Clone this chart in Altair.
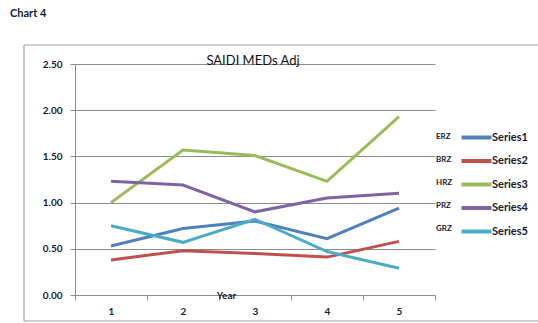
import altair as alt
import pandas as pd

years = [1, 2, 3, 4, 5]
series_names = ["Series1", "Series2", "Series3", "Series4", "Series5"]
prefixes = ["ERZ", "BRZ", "HRZ", "PRZ", "GRZ"]
s1 = [0.53, 0.72, 0.80, 0.61, 0.94]
s2 = [0.38, 0.48, 0.45, 0.41, 0.58]
s3 = [1.00, 1.57, 1.51, 1.23, 1.93]
s4 = [1.23, 1.19, 0.90, 1.05, 1.10]
s5 = [0.75, 0.57, 0.82, 0.47, 0.29]
colors = ["#4F81BD", "#C0504D", "#9BBB59", "#8064A2", "#4BACC6"]
y_ticks = [0.0, 0.5, 1.0, 1.5, 2.0, 2.5]
x_ticks = [0.5, 1, 1.5, 2, 2.5, 3, 3.5, 4, 4.5, 5, 5.5]

rows = []
for name, vals in zip(series_names, [s1, s2, s3, s4, s5]):
    for yr, v in zip(years, vals):
        rows.append({"series": name, "year": yr, "value": v})
df = pd.DataFrame(rows)

FONT = "Lato"
TXT = "#1a1a2e"
GRID = "#8c8c8c"
BOX = "#a0a0a0"

one = pd.DataFrame({"a": [0]})
box_top = alt.Chart(one).mark_rule(stroke=BOX, strokeWidth=1.2).encode(
    x=alt.value(-51), x2=alt.value(490), y=alt.value(-19))
box_bottom = alt.Chart(one).mark_rule(stroke=BOX, strokeWidth=1.2).encode(
    x=alt.value(-51), x2=alt.value(490), y=alt.value(257))
box_left = alt.Chart(one).mark_rule(stroke=BOX, strokeWidth=1.2).encode(
    x=alt.value(-51), y=alt.value(-19), y2=alt.value(257))

chart_label = alt.Chart(one).mark_text(
    text="Chart 4", font=FONT, fontSize=11, fontWeight="bold", align="left",
    baseline="middle", color=TXT
).encode(x=alt.value(-65), y=alt.value(-50))

title_text = alt.Chart(one).mark_text(
    text="SAIDI MEDs Adj", font=FONT, fontSize=13, align="center",
    baseline="middle", color="#111111"
).encode(x=alt.value(178), y=alt.value(-3))

lines = alt.Chart(df).mark_line(strokeWidth=3).encode(
    x=alt.X(
        "year:Q",
        scale=alt.Scale(domain=[0.5, 5.5], nice=False, zero=False),
        axis=alt.Axis(
            values=x_ticks,
            labelExpr="datum.value % 1 == 0 ? format(datum.value, 'd') : ''",
            tickColor={"condition": {"test": "datum.value % 1 == 0", "value": "transparent"}, "value": GRID},
            tickSize=5,
            labelPadding=6,
            labelFont=FONT, labelFontSize=10, labelFontWeight="bold", labelColor=TXT,
            domainColor=GRID, grid=False,
            title="Year", titleFont=FONT, titleFontSize=10, titleFontWeight="bold",
            titleColor=TXT, titleX=151, titleY=0, titleBaseline="middle", titleAlign="center",
        ),
    ),
    y=alt.Y(
        "value:Q",
        scale=alt.Scale(domain=[0, 2.5], nice=False),
        axis=alt.Axis(
            values=y_ticks, format=".2f", tickSize=5, tickColor=GRID, labelPadding=8,
            labelFont=FONT, labelFontSize=10, labelFontWeight="bold", labelColor=TXT,
            domainColor=GRID, gridColor=GRID, gridWidth=1, title=None,
        ),
    ),
    color=alt.Color(
        "series:N",
        scale=alt.Scale(domain=series_names, range=colors),
        legend=alt.Legend(
            orient="none", legendX=392, legendY=64, title=None,
            symbolType="M-2,0H2", symbolSize=225, symbolStrokeWidth=4,
            labelFont=FONT, labelFontSize=11, labelFontWeight="bold", labelColor=TXT,
            labelOffset=6, rowPadding=5.5,
        ),
    ),
)

prefix_layers = [
    alt.Chart(one).mark_text(
        text=p, font=FONT, fontSize=8, fontWeight="bold", align="left",
        baseline="middle", color=TXT
    ).encode(x=alt.value(361), y=alt.value(73 + i * 23))
    for i, p in enumerate(prefixes)
]

chart = alt.layer(box_top, box_bottom, box_left, chart_label, title_text, lines, *prefix_layers).properties(
    width=360, height=231,
    padding={"left": 75, "top": 64, "right": 103, "bottom": 28},
    autosize=alt.AutoSizeParams(type="none"),
).configure_view(stroke=None)

chart.save("out.html", embed_options={"renderer": "svg", "actions": False})
